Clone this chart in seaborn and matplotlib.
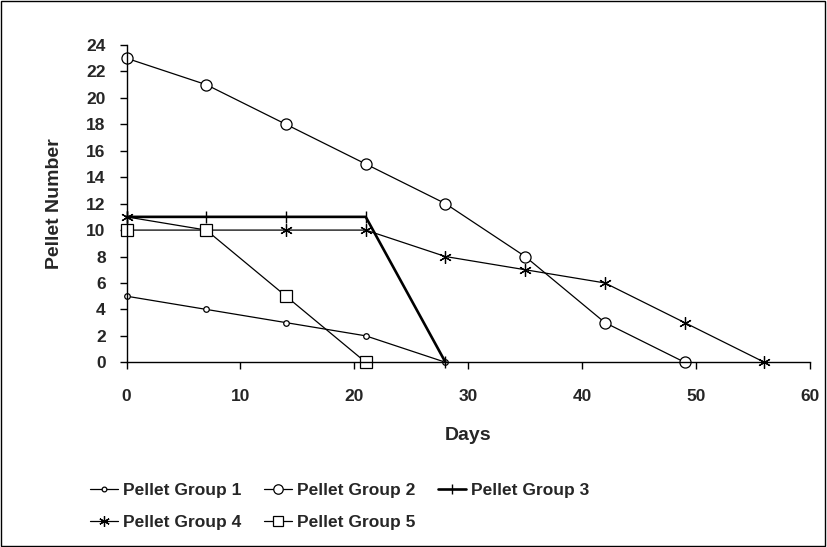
import matplotlib
matplotlib.use("Agg")
import matplotlib.pyplot as plt
import seaborn as sns
import pandas as pd
from matplotlib.patches import Rectangle

sns.set_theme(style="white")
plt.rcParams['font.family'] = ['Liberation Sans', 'DejaVu Sans']

days1 = [0, 7, 14, 21, 28]
group1 = [5, 4, 3, 2, 0]
days2 = [0, 7, 14, 21, 28, 35, 42, 49]
group2 = [23, 21, 18, 15, 12, 8, 3, 0]
days3 = [0, 7, 14, 21, 28]
group3 = [11, 11, 11, 11, 0]
days4 = [0, 7, 14, 21, 28, 35, 42, 49, 56]
group4 = [11, 10, 10, 10, 8, 7, 6, 3, 0]
days5 = [0, 7, 14, 21]
group5 = [10, 10, 5, 0]
labels = ["Pellet Group 1", "Pellet Group 2", "Pellet Group 3",
          "Pellet Group 4", "Pellet Group 5"]

fig = plt.figure(figsize=(8.27, 5.47), dpi=100)
ax = fig.add_axes([0.153, 0.3377, 0.8264, 0.58])

styles = [
    dict(marker='o', markersize=4, markerfacecolor='white', markeredgecolor='black',
         markeredgewidth=0.9, linewidth=0.9),
    dict(marker='o', markersize=8, markerfacecolor='white', markeredgecolor='black',
         markeredgewidth=0.9, linewidth=0.9),
    dict(marker='|', markersize=9, markeredgecolor='black', markeredgewidth=1.0, linewidth=1.9),
    dict(marker=(6, 2, 0), markersize=9, markeredgecolor='black', markeredgewidth=0.9, linewidth=0.9),
    dict(marker='s', markersize=8, markerfacecolor='white', markeredgecolor='black',
         markeredgewidth=0.9, linewidth=0.9),
]
data = [(days1, group1), (days2, group2), (days3, group3), (days4, group4), (days5, group5)]
for (d, g), lab, st in zip(data, labels, styles):
    df = pd.DataFrame({"Days": d, "Pellets": g})
    sns.lineplot(data=df, x="Days", y="Pellets", ax=ax, color='black', label=lab,
                 clip_on=False, **st)

ax.set_xlim(0, 60)
ax.set_ylim(0, 24)
ax.set_xticks(range(0, 61, 10))
ax.set_yticks(range(0, 25, 2))
for s in ['top', 'right']:
    ax.spines[s].set_visible(False)
for s in ['left', 'bottom']:
    ax.spines[s].set_color('black')
    ax.spines[s].set_linewidth(1)
ax.tick_params(axis='both', direction='out', length=5, width=1, color='black',
               labelsize=12.5, left=True, bottom=True)
ax.tick_params(axis='y', pad=10)
ax.tick_params(axis='x', pad=14)
for t in ax.get_xticklabels() + ax.get_yticklabels():
    t.set_fontweight('bold')
ax.set_xlabel("Days", fontsize=14, fontweight='bold', labelpad=17)
ax.set_ylabel("Pellet Number", fontsize=14, fontweight='bold', labelpad=17)

h, l = ax.get_legend_handles_labels()
ax.get_legend().remove()
order = [0, 3, 1, 4, 2]
fig.legend([h[i] for i in order], [l[i] for i in order], ncol=3, loc='upper left',
           bbox_to_anchor=(0.1005, 0.13), frameon=False,
           prop={'weight': 'bold', 'size': 12.5}, handlelength=1.6, columnspacing=1.3,
           handletextpad=0.3, labelspacing=0.95, borderaxespad=0, markerscale=0.85)

fig.patches.append(Rectangle((0.001, 0.001), 0.997, 0.997, transform=fig.transFigure,
                             fill=False, edgecolor='black', linewidth=1))
fig.savefig("out.png", dpi=100)
